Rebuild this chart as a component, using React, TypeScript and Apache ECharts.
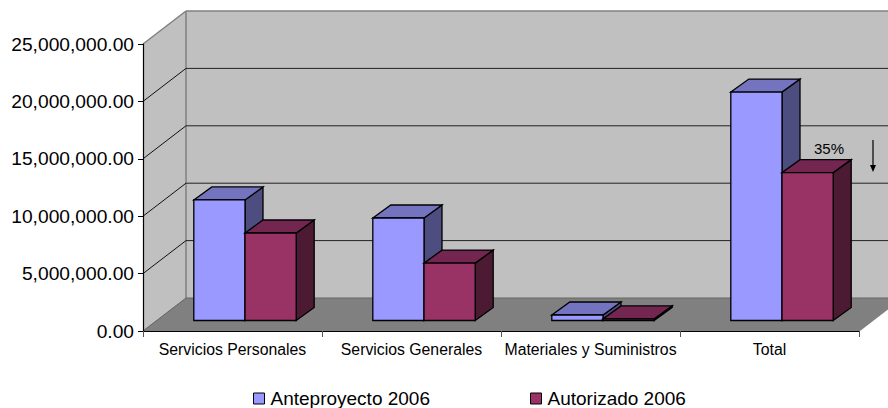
import React, { useEffect, useRef } from "react";
import * as echarts from "echarts";

const categories = ["Servicios Personales", "Servicios Generales", "Materiales y Suministros", "Total"];
const seriesNames = ["Anteproyecto 2006", "Autorizado 2006"];
const anteproyecto = [10500000, 8930000, 480000, 19900000];
const autorizado = [7620000, 5000000, 140000, 12880000];
const gridValues = [5000000, 10000000, 15000000, 20000000, 25000000];

const DEPTH_X = 43;
const DEPTH_Y = 33;
const BAR_DX = 18;
const BAR_DY = 13;
const BAR_OFFSET_X = 12.5;
const BAR_OFFSET_Y = 10.5;
const BAR_RATIO = 0.286;

const FACES = [
  { front: "#9999ff", top: "#7373bf", side: "#4d4d80" },
  { front: "#993366", top: "#732650", side: "#4d1a33" },
];

const poly = (points: number[][], fill: string, stroke: string | null, lineWidth = 1.3) => ({
  type: "polygon",
  shape: { points },
  style: { fill, stroke: stroke ?? "none", lineWidth },
});
const seg = (a: number[], b: number[], stroke: string, lineWidth = 1) => ({
  type: "line",
  shape: { x1: a[0], y1: a[1], x2: b[0], y2: b[1] },
  style: { stroke, lineWidth },
});

const renderWalls = (params: any) => {
  const { x, y, width, height } = params.coordSys;
  const b = y + height;
  const r = x + width;
  return {
    type: "group",
    children: [
      poly([[x, y], [x + DEPTH_X, y - DEPTH_Y], [x + DEPTH_X, b - DEPTH_Y], [x, b]], "#c0c0c0", null),
      poly([[x + DEPTH_X, y - DEPTH_Y], [r + DEPTH_X, y - DEPTH_Y], [r + DEPTH_X, b - DEPTH_Y], [x + DEPTH_X, b - DEPTH_Y]], "#c0c0c0", null),
      poly([[x, b], [x + DEPTH_X, b - DEPTH_Y], [r + DEPTH_X, b - DEPTH_Y], [r, b]], "#808080", null),
      seg([x, y], [x + DEPTH_X, y - DEPTH_Y], "#808080", 1.5),
      seg([x + DEPTH_X, y - DEPTH_Y], [r + DEPTH_X, y - DEPTH_Y], "#808080", 1.5),
      seg([x + DEPTH_X, y - DEPTH_Y], [x + DEPTH_X, b - DEPTH_Y], "#808080", 1.5),
      seg([x, b], [x + DEPTH_X, b - DEPTH_Y], "#606060", 1),
      seg([x + DEPTH_X, b - DEPTH_Y], [r + DEPTH_X, b - DEPTH_Y], "#666666", 1.2),
      seg([r, b], [r + DEPTH_X, b - DEPTH_Y], "#808080", 1.2),
    ],
  };
};

const renderGridLine = (params: any, api: any) => {
  const py = api.coord([0, api.value(1)])[1];
  const { x, width } = params.coordSys;
  const isTop = api.value(1) === gridValues[gridValues.length - 1];
  if (isTop) return { type: "group", children: [] };
  return {
    type: "group",
    children: [
      seg([x, py], [x + DEPTH_X, py - DEPTH_Y], "#111111", 1),
      seg([x + DEPTH_X, py - DEPTH_Y], [x + width + DEPTH_X, py - DEPTH_Y], "#222222", 1),
    ],
  };
};

const renderBar = (seriesIdx: number) => (_params: any, api: any) => {
  const c = api.coord([api.value(0), api.value(1)]);
  const base = api.coord([api.value(0), 0]);
  const w = api.size([1, 0])[0] * BAR_RATIO;
  const x0 = c[0] - w + seriesIdx * w + BAR_OFFSET_X;
  const x1 = x0 + w;
  const yb = base[1] - BAR_OFFSET_Y;
  const yt = c[1] - BAR_OFFSET_Y;
  const f = FACES[seriesIdx];
  return {
    type: "group",
    children: [
      poly([[x1, yt], [x1 + BAR_DX, yt - BAR_DY], [x1 + BAR_DX, yb - BAR_DY], [x1, yb]], f.side, "#000"),
      poly([[x0, yt], [x0 + BAR_DX, yt - BAR_DY], [x1 + BAR_DX, yt - BAR_DY], [x1, yt]], f.top, "#000"),
      poly([[x0, yt], [x1, yt], [x1, yb], [x0, yb]], f.front, "#000"),
    ],
  };
};

export default function App() {
  const ref = useRef<HTMLDivElement>(null);
  useEffect(() => {
    const chart = echarts.init(ref.current!, null, { renderer: "svg" });
    chart.setOption({
      animation: false,
      backgroundColor: "#ffffff",
      textStyle: { fontFamily: "Liberation Sans" },
      grid: { left: 143, top: 44, width: 716, height: 287, containLabel: false },
      legend: {
        left: 248,
        top: 384,
        itemWidth: 11,
        itemHeight: 11,
        itemGap: 100,
        selectedMode: false,
        textStyle: { fontSize: 19, color: "#000", fontFamily: "Liberation Sans", padding: [0, 0, 0, 1] },
        data: seriesNames.map((name, i) => ({
          name,
          icon: "rect",
          itemStyle: { color: FACES[i].front, borderColor: "#000", borderWidth: 1 },
        })),
      },
      xAxis: {
        type: "category",
        data: categories,
        z: 5,
        axisLine: { lineStyle: { color: "#000", width: 1.2 } },
        axisTick: { show: true, alignWithLabel: false, length: 6, lineStyle: { color: "#555" } },
        axisLabel: { fontSize: 15.8, color: "#000", margin: 10, interval: 0, fontFamily: "Liberation Sans" },
      },
      yAxis: {
        type: "value",
        min: 0,
        max: 25000000,
        interval: 5000000,
        z: 5,
        splitLine: { show: false },
        axisLine: { show: true, lineStyle: { color: "#000", width: 1.2 } },
        axisTick: { show: true, length: 5, lineStyle: { color: "#000" } },
        axisLabel: {
          fontSize: 19.2,
          color: "#000",
          margin: 9,
          fontFamily: "Liberation Sans",
          formatter: (v: number) => v.toLocaleString("en-US", { minimumFractionDigits: 2, maximumFractionDigits: 2 }),
        },
      },
      graphic: [
        { type: "text", x: 814, y: 141, z: 20, style: { text: "35%", font: "15px 'Liberation Sans'", fill: "#000" } },
        { type: "line", z: 20, shape: { x1: 873, y1: 140, x2: 873, y2: 167 }, style: { stroke: "#000", lineWidth: 1.2 } },
        { type: "polygon", z: 20, shape: { points: [[870, 165], [876, 165], [873, 172]] }, style: { fill: "#000" } },
      ],
      series: [
        { type: "custom", name: "walls", silent: true, z: 1, renderItem: renderWalls, data: [[0, 0]], encode: { x: 0, y: 1 } },
        {
          type: "custom",
          name: "grid",
          silent: true,
          z: 2,
          renderItem: renderGridLine,
          data: gridValues.map((v) => [0, v]),
          encode: { x: 0, y: 1 },
        },
        ...[anteproyecto, autorizado].map((values, i) => ({
          type: "custom",
          name: seriesNames[i],
          z: 10,
          silent: true,
          itemStyle: { color: FACES[i].front },
          renderItem: renderBar(i),
          data: values.map((v, idx) => [idx, v]),
          encode: { x: 0, y: 1 },
        })),
      ],
    });
    return () => chart.dispose();
  }, []);
  return <div ref={ref} style={{ position: "fixed", left: 0, top: 0, width: 888, height: 408 }} />;
}
